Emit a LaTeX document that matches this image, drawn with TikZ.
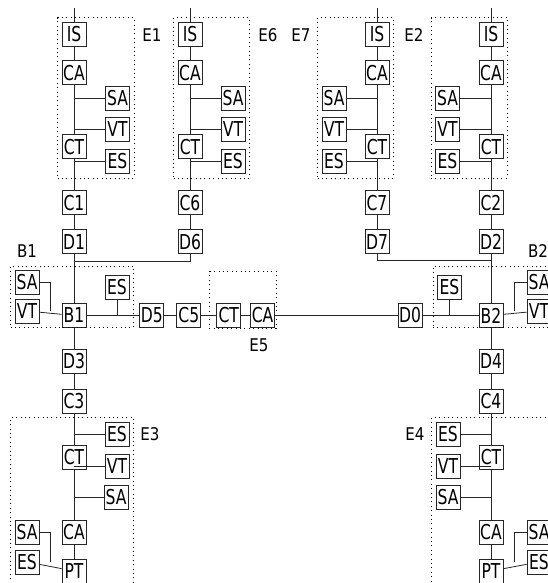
\documentclass[tikz,border=0pt]{standalone}
\usepackage{fontspec}
\setmainfont{DejaVu Sans}
\newfontfamily\unitfont[FakeStretch=0.76]{DejaVu Sans}
\newfontfamily\tagfont[FakeStretch=0.86]{DejaVu Sans}
\usetikzlibrary{positioning, fit}

\begin{document}
\begin{tikzpicture}[x=1pt, y=-1pt, node distance=14pt and 20pt]
    \tikzstyle{unit} = [rectangle, draw=black!85, line width=0.9pt, minimum size=24pt, inner sep=0pt, font=\unitfont\fontsize{20.5}{20.5}\selectfont]
    \tikzstyle{group} = [draw=black, line width=0.9pt, dash pattern=on 0.9pt off 3.5pt, inner sep=4pt]
    \tikzstyle{tag} = [inner sep=0pt, font=\tagfont\fontsize{17.5}{17.5}\selectfont]
    \tikzstyle{wire} = [draw=black!85, line width=0.8pt]

    \useasboundingbox (0,0) rectangle (547,583);

    % Feeder E1
    \node [unit] (e1_is) at (74,34) {IS};
    \node [unit, below=14pt of e1_is] (e1_ca) {CA};
    \node [unit, below=49pt of e1_ca] (e1_ct) {CT};
    \node [unit] (e1_sa) at (117.5,98.5) {SA};
    \node [unit] (e1_vt) at (117.5,129.5) {VT};
    \node [unit] (e1_es) at (117.5,161.5) {ES};
    \node [unit, below=31pt of e1_ct] (c1) {C1};
    \node [unit, below=14pt of c1] (d1) {D1};
    \coordinate (e1_top) at (74,8);

    % Feeder E6
    \node [unit] (e6_is) at (190,34) {IS};
    \node [unit, below=14pt of e6_is] (e6_ca) {CA};
    \node [unit, below=49pt of e6_ca] (e6_ct) {CT};
    \node [unit] (e6_sa) at (233,98.5) {SA};
    \node [unit] (e6_vt) at (233,129.5) {VT};
    \node [unit] (e6_es) at (233,161.5) {ES};
    \node [unit, below=31pt of e6_ct] (c6) {C6};
    \node [unit, below=14pt of c6] (d6) {D6};
    \coordinate (e6_top) at (190,8);

    % Feeder E7
    \node [unit] (e7_is) at (377,34) {IS};
    \node [unit, below=14pt of e7_is] (e7_ca) {CA};
    \node [unit, below=49pt of e7_ca] (e7_ct) {CT};
    \node [unit] (e7_sa) at (334,98.5) {SA};
    \node [unit] (e7_vt) at (334,129.5) {VT};
    \node [unit] (e7_es) at (334,161.5) {ES};
    \node [unit, below=31pt of e7_ct] (c7) {C7};
    \node [unit, below=14pt of c7] (d7) {D7};
    \coordinate (e7_top) at (377,8);

    % Feeder E2
    \node [unit] (e2_is) at (491,34) {IS};
    \node [unit, below=14pt of e2_is] (e2_ca) {CA};
    \node [unit, below=49pt of e2_ca] (e2_ct) {CT};
    \node [unit] (e2_sa) at (447.5,98.5) {SA};
    \node [unit] (e2_vt) at (447.5,129.5) {VT};
    \node [unit] (e2_es) at (447.5,161.5) {ES};
    \node [unit, below=31pt of e2_ct] (c2) {C2};
    \node [unit, below=14pt of c2] (d2) {D2};
    \coordinate (e2_top) at (491,8);

    % Busbars B1 and B2
    \node [unit, below=49pt of d1] (b1) {B1};
    \node [unit] (b1_sa) at (27,282.5) {SA};
    \node [unit] (b1_vt) at (27,311) {VT};
    \node [unit] (b1_es) at (117,287.5) {ES};
    \coordinate (b1_j) at (50,311);
    \coordinate (bus_w) at (74,261);

    \node [unit, below=49pt of d2] (b2) {B2};
    \node [unit] (b2_sa) at (539,282.5) {SA};
    \node [unit] (b2_vt) at (539,311) {VT};
    \node [unit] (b2_es) at (449.5,287.5) {ES};
    \coordinate (b2_j) at (514,311);
    \coordinate (bus_e) at (491,260);

    % Link E5 between the busbars
    \node [unit, right=53pt of b1] (d5) {D5};
    \node [unit, right=12pt of d5] (c5) {C5};
    \node [unit, right=15pt of c5] (e5_ct) {CT};
    \node [unit, right=9pt of e5_ct] (e5_ca) {CA};
    \node [unit, left=56pt of b2] (d0) {D0};

    % Feeder E3
    \node [unit, below=21pt of b1] (d3) {D3};
    \node [unit, below=15pt of d3] (c3) {C3};
    \node [unit, below=31pt of c3] (e3_ct) {CT};
    \node [unit, below=50pt of e3_ct] (e3_ca) {CA};
    \node [unit, below=14pt of e3_ca] (e3_pt) {PT};
    \node [unit] (e3_es) at (117,434) {ES};
    \node [unit] (e3_vt) at (117,466.5) {VT};
    \node [unit] (e3_sa) at (116,497.5) {SA};
    \node [unit] (e3_sa_l) at (27,532.5) {SA};
    \node [unit] (e3_es_l) at (27,562) {ES};
    \coordinate (e3_j) at (50,562);
    \coordinate (e3_bot) at (74,583);

    % Feeder E4
    \node [unit, below=21pt of b2] (d4) {D4};
    \node [unit, below=15pt of d4] (c4) {C4};
    \node [unit, below=31pt of c4] (e4_ct) {CT};
    \node [unit, below=50pt of e4_ct] (e4_ca) {CA};
    \node [unit, below=14pt of e4_ca] (e4_pt) {PT};
    \node [unit] (e4_es) at (448,434) {ES};
    \node [unit] (e4_vt) at (448,466.5) {VT};
    \node [unit] (e4_sa) at (448,497.5) {SA};
    \node [unit] (e4_sa_r) at (539,532.5) {SA};
    \node [unit] (e4_es_r) at (539,562) {ES};
    \coordinate (e4_j) at (514,562);
    \coordinate (e4_bot) at (491,583);

    % Groups
    \node [group, fit=(e1_is) (e1_es)] (e1) {};
    \node [group, fit=(e6_is) (e6_es)] (e6) {};
    \node [group, fit=(e7_is) (e7_es)] (e7) {};
    \node [group, fit=(e2_is) (e2_es)] (e2) {};
    \node [group, fit=(b1_sa) (b1_vt) (b1_es)] (b1_grp) {};
    \node [group, fit=(b2_es) (b2_sa) (b2_vt)] (b2_grp) {};
    \node [group, fit=(e3_es) (e3_pt) (e3_sa_l)] (e3) {};
    \node [group, fit=(e4_es) (e4_pt) (e4_es_r)] (e4) {};
    \draw [group] (209,271) rectangle (276,328);

    % Labels
    \node [tag] at (152,35) {E1};
    \node [tag] at (268,35) {E6};
    \node [tag] at (301,35) {E7};
    \node [tag] at (414,35) {E2};
    \node [tag] at (27,251.5) {B1};
    \node [tag] at (538,251) {B2};
    \node [tag] at (259,345) {E5};
    \node [tag] at (150,434) {E3};
    \node [tag] at (415,434) {E4};

    % Connections
    \draw [wire] (e1_top) -- (e1_is) -- (e1_ca) -- (e1_ct) -- (c1) -- (d1) -- (b1);
    \draw [wire] (e1_sa) -- (e1_sa -| e1_ca);
    \draw [wire] (e1_vt) -- (e1_vt -| e1_ca);
    \draw [wire] (e1_es) -- (e1_es -| e1_ca);

    \draw [wire] (e6_top) -- (e6_is) -- (e6_ca) -- (e6_ct) -- (c6) -- (d6);
    \draw [wire] (e6_sa) -- (e6_sa -| e6_ca);
    \draw [wire] (e6_vt) -- (e6_vt -| e6_ca);
    \draw [wire] (e6_es) -- (e6_es -| e6_ca);
    \draw [wire] (d6) |- (bus_w);

    \draw [wire] (e7_top) -- (e7_is) -- (e7_ca) -- (e7_ct) -- (c7) -- (d7);
    \draw [wire] (e7_sa) -- (e7_sa -| e7_ca);
    \draw [wire] (e7_vt) -- (e7_vt -| e7_ca);
    \draw [wire] (e7_es) -- (e7_es -| e7_ca);
    \draw [wire] (d7) |- (bus_e);

    \draw [wire] (e2_top) -- (e2_is) -- (e2_ca) -- (e2_ct) -- (c2) -- (d2) -- (b2);
    \draw [wire] (e2_sa) -- (e2_sa -| e2_ca);
    \draw [wire] (e2_vt) -- (e2_vt -| e2_ca);
    \draw [wire] (e2_es) -- (e2_es -| e2_ca);

    \draw [wire] (b1_vt) -- (b1);
    \draw [wire] (b1_sa) -| (b1_j);
    \draw [wire] (b1) -- (d5) -- (c5) -- (e5_ct) -- (e5_ca) -- (d0) -- (b2);
    \draw [wire] (b1_es) -- (b1_es |- b1);
    \draw [wire] (b2_es) -- (b2_es |- b2);
    \draw [wire] (b2) -- (b2_vt);
    \draw [wire] (b2_sa) -| (b2_j);

    \draw [wire] (b1) -- (d3) -- (c3) -- (e3_ct) -- (e3_ca) -- (e3_pt) -- (e3_bot);
    \draw [wire] (e3_es) -- (e3_es -| e3_ct);
    \draw [wire] (e3_vt) -- (e3_vt -| e3_ct);
    \draw [wire] (e3_sa) -- (e3_sa -| e3_ct);
    \draw [wire] (e3_es_l) -- (e3_pt);
    \draw [wire] (e3_sa_l) -| (e3_j);

    \draw [wire] (b2) -- (d4) -- (c4) -- (e4_ct) -- (e4_ca) -- (e4_pt) -- (e4_bot);
    \draw [wire] (e4_es) -- (e4_es -| e4_ct);
    \draw [wire] (e4_vt) -- (e4_vt -| e4_ct);
    \draw [wire] (e4_sa) -- (e4_sa -| e4_ct);
    \draw [wire] (e4_pt) -- (e4_es_r);
    \draw [wire] (e4_sa_r) -| (e4_j);
\end{tikzpicture}
\end{document}
